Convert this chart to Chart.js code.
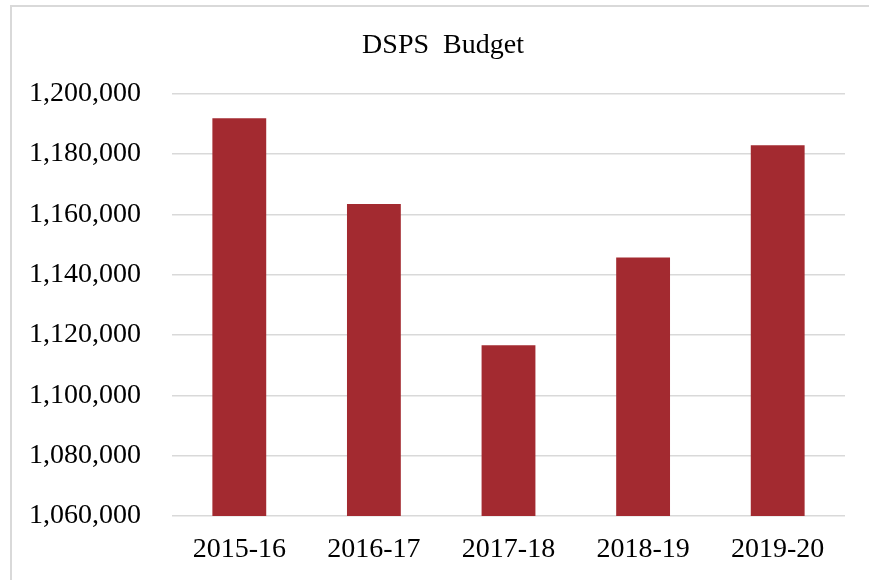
<!DOCTYPE html>
<html lang="en">
<head>
  <meta charset="UTF-8" />
  <title>DSPS Budget</title>
  <style>
    html, body { margin: 0; padding: 0; background: #fff; overflow: hidden; }
    #frame {
      position: absolute;
      left: 10px;
      top: 5px;
      width: 862px;
      height: 620px;
      border: 2px solid #d9d9d9;
    }
  </style>
</head>
<body>
  <div id="frame">
    <canvas id="budgetChart" width="862" height="620"></canvas>
  </div>

  <script src="https://cdn.jsdelivr.net/npm/chart.js"></script>
  <script>
    const years = ['2015-16', '2016-17', '2017-18', '2018-19', '2019-20'];
    const budget = [1191800, 1163400, 1116600, 1145700, 1182900];
    const yMin = 1060000;
    const yMax = 1200000;
    const yStep = 20000;

    const textFont = { family: '"Liberation Serif", serif', size: 28, weight: 'normal' };

    const ctx = document.getElementById('budgetChart').getContext('2d');

    const chart = new Chart(ctx, {
      type: 'bar',
      data: {
        labels: years,
        datasets: [{
          label: 'DSPS Budget',
          data: budget,
          backgroundColor: '#a32a30',
          borderWidth: 0,
          barPercentage: 0.4,
          categoryPercentage: 1.0
        }]
      },
      options: {
        responsive: false,
        animation: false,
        layout: {
          padding: { left: 0, right: 0, top: 0, bottom: 60 }
        },
        plugins: {
          legend: { display: false },
          tooltip: { enabled: false },
          title: {
            display: true,
            text: 'DSPS  Budget',
            color: '#000',
            font: textFont,
            padding: { top: 22, bottom: 31 }
          }
        },
        scales: {
          x: {
            grid: { display: false, drawTicks: false },
            border: { display: false },
            ticks: {
              color: '#000',
              padding: 17,
              font: textFont
            },
            afterFit: (scale) => { scale.height = 51; }
          },
          y: {
            min: yMin,
            max: yMax,
            grid: { color: '#d9d9d9', lineWidth: 1.5, drawTicks: false },
            border: { display: false },
            ticks: {
              stepSize: yStep,
              color: '#000',
              padding: 31,
              font: textFont,
              callback: (v) => v.toLocaleString('en-US')
            },
            afterFit: (scale) => { scale.width = 160; }
          },
          // empty right-hand spacer so the title centres on the whole frame
          spacer: {
            position: 'right',
            min: yMin,
            max: yMax,
            grid: { display: false, drawTicks: false },
            border: { display: false },
            ticks: { display: false },
            afterFit: (scale) => { scale.width = 29; }
          }
        }
      }
    });
  </script>
</body>
</html>
